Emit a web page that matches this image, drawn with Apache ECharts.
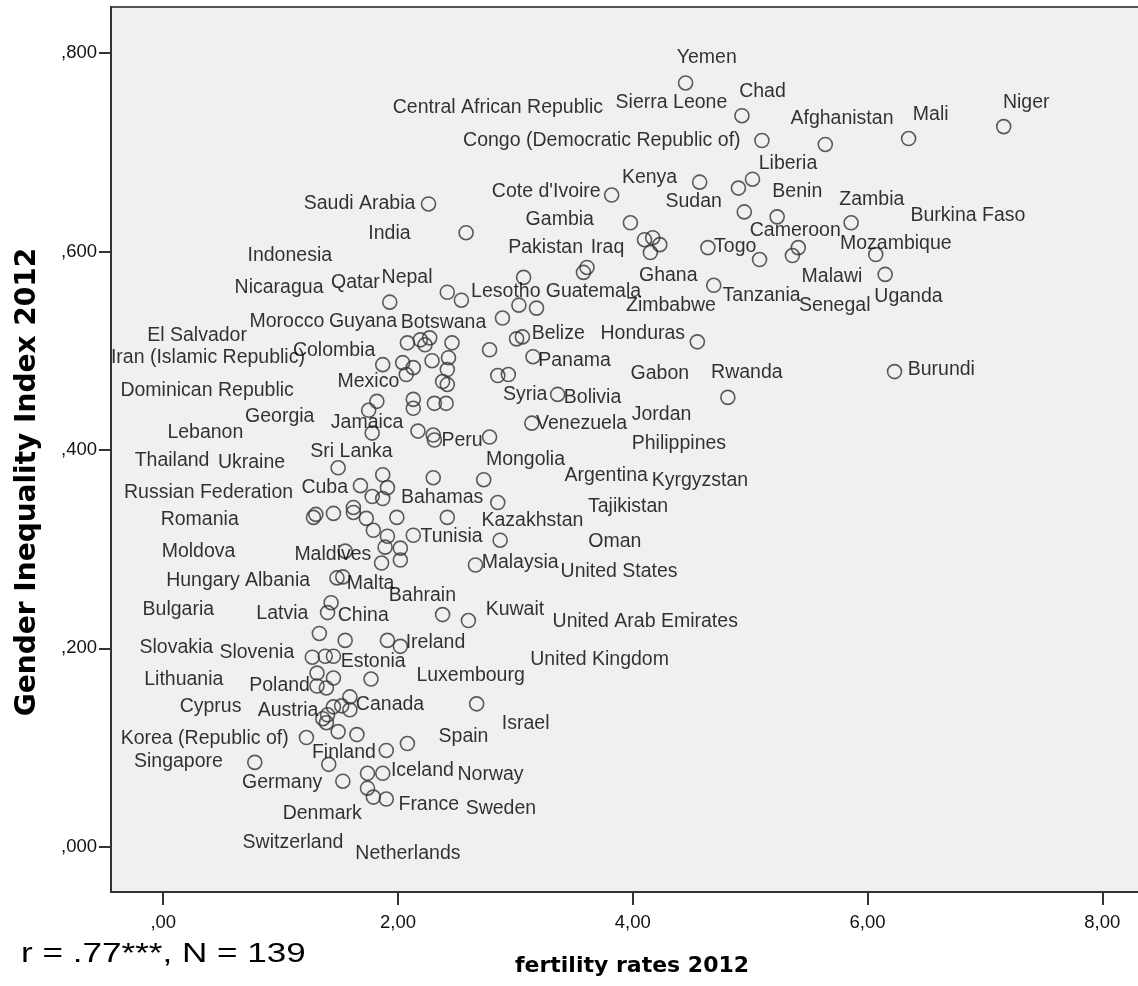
<!DOCTYPE html>
<html>
<head>
<meta charset="utf-8">
<script src="https://cdn.jsdelivr.net/npm/echarts@6/dist/echarts.min.js"></script>
<style>
  body { margin: 0; background: #fff; }
  #main { width: 1138px; height: 986px; }
</style>
</head>
<body>
<div id="main"></div>
<script>
// countries ('' = point drawn without a label)
var countries = [
  'Yemen', 'Chad', 'Congo (Democratic Republic of)', 'Afghanistan', 'Mali', 'Niger',
  'Kenya', 'Sierra Leone', 'Liberia', 'Sudan', 'Benin', 'Zambia',
  "Cote d'Ivoire", 'Saudi Arabia', 'Gambia', 'India', 'Central African Republic', 'Senegal',
  'Zimbabwe', 'Tanzania', 'Togo', 'Cameroon', 'Malawi', 'Burkina Faso',
  'Mozambique', 'Uganda', 'Pakistan', 'Iraq', '', 'Ghana',
  'Indonesia', 'Nepal', 'Qatar', 'Lesotho', 'Guatemala', 'Botswana',
  'Burundi', 'Rwanda', 'Honduras', 'Jordan', 'Belize', 'Kyrgyzstan',
  'Panama', 'Syria', 'Gabon', 'Bolivia', 'Venezuela', 'Philippines',
  'Mongolia', 'Tajikistan', 'Oman', 'Malaysia', 'Nicaragua', 'Morocco',
  'Guyana', 'El Salvador', '', 'Iran (Islamic Republic)', 'Colombia', 'Mexico',
  'Dominican Republic', '', '', '', '', '',
  'Georgia', 'Jamaica', 'Lebanon', '', '', '',
  '', '', 'Peru', '', 'Sri Lanka', 'Ukraine',
  'Argentina', 'Thailand', '', 'Cuba', 'Bahamas', 'Russian Federation',
  'Romania', 'Moldova', '', '', '', '',
  'Kazakhstan', '', 'Tunisia', '', '', '',
  'Maldives', 'Malta', 'United States', 'Albania', 'Hungary', 'Latvia',
  'China', 'Bahrain', 'Kuwait', 'Bulgaria', 'Luxembourg', 'Ireland',
  'United Arab Emirates', 'Slovakia', 'Slovenia', 'Estonia', 'Lithuania', '',
  'United Kingdom', 'Poland', '', '', 'Cyprus', 'Canada',
  '', 'Austria', '', 'Netherlands', '', 'Korea (Republic of)',
  'Israel', 'Spain', 'Norway', 'Finland', 'Sweden', 'Iceland',
  'Germany', 'Denmark', 'Switzerland', 'France', 'Singapore', ''
];

// fertility rates 2012
var fertility = [
  4.45, 4.93, 5.10, 5.64, 6.35, 7.16,
  4.57, 4.90, 5.02, 4.95, 5.23, 5.86,
  3.82, 2.26, 3.98, 2.58, 4.10, 4.17,
  4.23, 4.15, 4.64, 5.08, 5.36, 5.41,
  6.07, 6.15, 3.61, 3.58, 3.07, 4.69,
  2.42, 2.54, 1.93, 3.03, 3.18, 2.89,
  6.23, 4.81, 4.55, 3.01, 3.06, 2.78,
  3.15, 2.85, 2.94, 3.36, 3.14, 2.78,
  2.73, 2.85, 2.87, 2.66, 2.08, 2.19,
  2.27, 2.23, 2.46, 1.87, 2.04, 2.13,
  2.07, 2.29, 2.43, 2.42, 2.38, 2.42,
  1.82, 1.75, 1.78, 2.13, 2.13, 2.31,
  2.41, 2.17, 2.30, 2.31, 1.49, 1.87,
  2.30, 1.68, 1.91, 1.78, 1.87, 1.30,
  1.28, 1.45, 1.62, 1.62, 1.73, 1.99,
  2.42, 1.79, 2.13, 1.91, 1.89, 2.02,
  1.55, 1.86, 2.02, 1.53, 1.48, 1.43,
  1.40, 2.38, 2.60, 1.33, 1.55, 1.91,
  2.02, 1.27, 1.38, 1.45, 1.31, 1.45,
  1.77, 1.31, 1.39, 1.59, 1.45, 1.52,
  1.59, 1.40, 1.39, 1.49, 1.65, 1.22,
  2.67, 2.08, 1.90, 1.41, 1.74, 1.87,
  1.53, 1.74, 1.79, 1.90, 0.78, 1.36
];

// Gender Inequality Index 2012
var gii = [
  0.770, 0.737, 0.712, 0.708, 0.714, 0.726,
  0.670, 0.664, 0.673, 0.640, 0.635, 0.629,
  0.657, 0.648, 0.629, 0.619, 0.612, 0.614,
  0.607, 0.599, 0.604, 0.592, 0.596, 0.604,
  0.597, 0.577, 0.584, 0.579, 0.574, 0.566,
  0.559, 0.551, 0.549, 0.546, 0.543, 0.533,
  0.479, 0.453, 0.509, 0.512, 0.514, 0.501,
  0.494, 0.475, 0.476, 0.456, 0.427, 0.413,
  0.370, 0.347, 0.309, 0.284, 0.508, 0.511,
  0.513, 0.506, 0.508, 0.486, 0.488, 0.483,
  0.476, 0.490, 0.493, 0.481, 0.469, 0.466,
  0.449, 0.440, 0.417, 0.451, 0.442, 0.447,
  0.447, 0.419, 0.415, 0.410, 0.382, 0.375,
  0.372, 0.364, 0.362, 0.353, 0.351, 0.335,
  0.332, 0.336, 0.342, 0.337, 0.331, 0.332,
  0.332, 0.319, 0.314, 0.313, 0.302, 0.301,
  0.298, 0.286, 0.289, 0.272, 0.271, 0.246,
  0.236, 0.234, 0.228, 0.215, 0.208, 0.208,
  0.202, 0.191, 0.192, 0.192, 0.175, 0.170,
  0.169, 0.162, 0.160, 0.151, 0.141, 0.142,
  0.138, 0.133, 0.125, 0.116, 0.113, 0.110,
  0.144, 0.104, 0.097, 0.083, 0.074, 0.074,
  0.066, 0.059, 0.050, 0.048, 0.085, 0.129
];

var xTicks = [0, 2, 4, 6, 8];
var yTicks = [0, 0.2, 0.4, 0.6, 0.8];

// where SPSS put each label, in px from its circle (layout only)
var labelShift = {
  'Yemen': [-8, -25], 'Chad': [-2, -23], 'Congo (Democratic Republic of)': [-298, 1],
  'Afghanistan': [-34, -25], 'Mali': [5, -23], 'Niger': [0, -23], 'Kenya': [-77, -4],
  'Sierra Leone': [-122, -85], 'Liberia': [7, -15], 'Sudan': [-78, -9], 'Benin': [-4, -24],
  'Zambia': [-11, -22], "Cote d'Ivoire": [-119, -3], 'Saudi Arabia': [-124, 0],
  'Gambia': [-104, -2], 'India': [-97, 2], 'Central African Republic': [-251, -131],
  'Senegal': [147, 69], 'Zimbabwe': [-33, 62], 'Tanzania': [73, 44], 'Togo': [7, 0],
  'Cameroon': [-9, -28], 'Malawi': [10, 22], 'Burkina Faso': [113, -31],
  'Mozambique': [-35, -10], 'Uganda': [-10, 23], 'Pakistan': [-78, -19], 'Iraq': [8, -24],
  'Ghana': [-74, -9], 'Indonesia': [-199, -36], 'Nepal': [-79, -22], 'Qatar': [-58, -19],
  'Lesotho': [-47, -13], 'Guatemala': [10, -16], 'Botswana': [-101, 5], 'Burundi': [14, -1],
  'Rwanda': [-16, -24], 'Honduras': [-96, -7], 'Jordan': [116, 77], 'Belize': [10, -2],
  'Kyrgyzstan': [163, 132], 'Panama': [6, 5], 'Syria': [6, 20], 'Gabon': [123, 0],
  'Bolivia': [7, 4], 'Venezuela': [5, 1], 'Philippines': [143, 7], 'Mongolia': [3, -19],
  'Tajikistan': [91, 5], 'Oman': [89, 2], 'Malaysia': [7, -2], 'Nicaragua': [-172, -54],
  'Morocco': [-170, -17], 'Guyana': [-100, -15], 'El Salvador': [-277, -8],
  'Iran (Islamic Republic)': [-271, -6], 'Colombia': [-109, -11], 'Mexico': [-75, 15],
  'Dominican Republic': [-285, 17], 'Georgia': [-131, 16], 'Jamaica': [-37, 13],
  'Lebanon': [-204, 0], 'Peru': [9, 6], 'Sri Lanka': [-27, -15], 'Ukraine': [-164, -11],
  'Argentina': [132, -1], 'Thailand': [-225, -24], 'Cuba': [-70, -8], 'Bahamas': [19, 0],
  'Russian Federation': [-191, -21], 'Romania': [-152, 3], 'Moldova': [-171, 39],
  'Kazakhstan': [35, 4], 'Tunisia': [8, 2], 'Maldives': [-50, 4], 'Malta': [-34, 21],
  'United States': [161, 12], 'Albania': [-97, 5], 'Hungary': [-170, 4], 'Latvia': [-74, 12],
  'China': [11, 4], 'Bahrain': [-53, -18], 'Kuwait': [18, -10], 'Bulgaria': [-176, -23],
  'Luxembourg': [72, 36], 'Ireland': [19, 3], 'United Arab Emirates': [153, -24],
  'Slovakia': [-172, -9], 'Slovenia': [-105, -3], 'Estonia': [8, 6], 'Lithuania': [-172, 7],
  'United Kingdom': [160, -19], 'Poland': [-67, 0], 'Cyprus': [-153, 1], 'Canada': [15, 0],
  'Austria': [-69, -3], 'Netherlands': [18, 123], 'Korea (Republic of)': [-185, 2],
  'Israel': [26, 21], 'Spain': [32, -6], 'Norway': [72, 25], 'Finland': [-16, -11],
  'Sweden': [99, 36], 'Iceland': [9, -2], 'Germany': [-100, 2], 'Denmark': [-84, 26],
  'Switzerland': [-130, 46], 'France': [13, 6], 'Singapore': [-120, 0]
};

var SYM = 14;
var points = countries.map(function (c, i) {
  var s = labelShift[c];
  return {
    name: c,
    value: [fertility[i], gii[i]],
    label: s ? {
      show: true,
      position: [SYM / 2 + s[0], SYM / 2 + s[1]],
      align: 'left',
      verticalAlign: 'middle'
    } : { show: false }
  };
});

var myChart = echarts.init(document.getElementById('main'));
var option = {
  animation: false,
  backgroundColor: '#fff',
  grid: {
    left: 111, top: 7, width: 1050, height: 885,
    show: true, backgroundColor: '#f0f0f0',
    borderColor: '#555', borderWidth: 2,
    containLabel: false, outerBoundsMode: 'none'
  },
  xAxis: {
    type: 'value', min: -0.445, max: 8.5,
    splitLine: { show: false },
    axisLine: { show: true, onZero: false, lineStyle: { color: '#333', width: 2 } },
    axisTick: { show: true, customValues: xTicks, length: 13, lineStyle: { color: '#333', width: 2 } },
    axisLabel: {
      customValues: xTicks, margin: 21, color: '#111',
      fontFamily: 'Liberation Sans', fontSize: 18.5,
      formatter: function (v) { return v.toFixed(2).replace('.', ',').replace(/^0,/, ','); }
    }
  },
  yAxis: {
    type: 'value', min: -0.0457, max: 0.8466,
    splitLine: { show: false },
    axisLine: { show: true, onZero: false, lineStyle: { color: '#333', width: 2 } },
    axisTick: { show: true, customValues: yTicks, length: 12, lineStyle: { color: '#333', width: 2 } },
    axisLabel: {
      customValues: yTicks, margin: 14, color: '#111',
      fontFamily: 'Liberation Sans', fontSize: 18.5,
      formatter: function (v) { return v.toFixed(3).replace(/^0\./, ','); }
    }
  },
  graphic: [
    {
      type: 'text', x: 28, y: 482, rotation: Math.PI / 2, silent: true,
      style: { text: 'Gender Inequality Index 2012', font: 'bold 28px "DejaVu Sans"', fill: '#000', align: 'center', verticalAlign: 'middle' }
    },
    {
      type: 'text', x: 632, y: 966, silent: true,
      style: { text: 'fertility rates 2012', font: 'bold 22px "DejaVu Sans"', fill: '#000', align: 'center', verticalAlign: 'middle' }
    },
    {
      type: 'text', x: 21, y: 955, scaleX: 1.3, silent: true,
      style: { text: 'r = .77***, N = 139', font: '27px "Liberation Sans"', fill: '#000', align: 'left', verticalAlign: 'middle' }
    }
  ],
  series: [{
    type: 'scatter',
    data: points,
    symbol: 'circle',
    symbolSize: SYM,
    silent: true,
    itemStyle: { color: 'rgba(0,0,0,0)', borderColor: '#333', borderWidth: 1.6 },
    label: { formatter: '{b}', color: '#000', fontFamily: 'Liberation Sans', fontSize: 19.5 },
    emphasis: { disabled: true }
  }]
};
myChart.setOption(option);
</script>
</body>
</html>
